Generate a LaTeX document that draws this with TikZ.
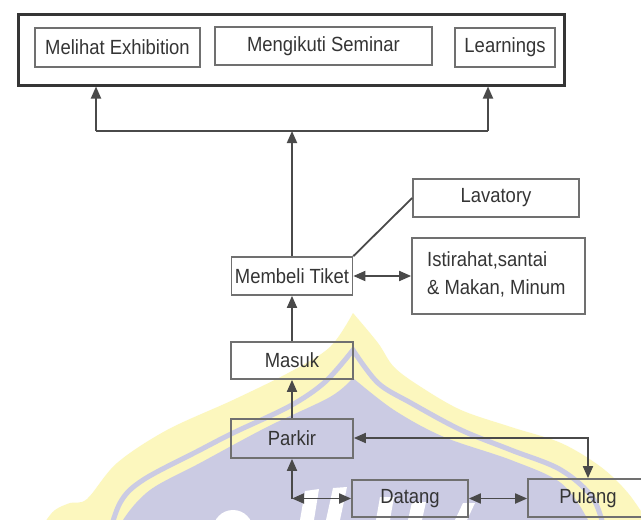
\documentclass[tikz,border=0pt]{standalone}
\usepackage{fontspec}
\setmainfont[FakeStretch=0.9]{Liberation Sans}
\usetikzlibrary{arrows.meta}
\definecolor{wmyellow}{HTML}{FCF7BE}
\definecolor{wmlav}{HTML}{CBCBE3}
\definecolor{edge}{HTML}{707070}
\definecolor{ink}{HTML}{353535}
\definecolor{wirecol}{HTML}{4A4A4A}

\begin{document}
\begin{tikzpicture}[x=1pt, y=-1pt,
  >={Triangle[length=12pt,width=10pt]},
  box/.style={draw=edge, line width=1.7pt, rectangle, inner sep=0pt,
    text=ink, font=\fontsize{20.5}{24}\selectfont},
  frame/.style={draw=ink, line width=3pt, rectangle, inner sep=0pt},
  wire/.style={draw=wirecol, line width=1.8pt},
  label/.style={text=ink, inner sep=0pt, font=\fontsize{20.5}{28}\selectfont}
]
\useasboundingbox (0,0) rectangle (641,520);
\fill[white] (0,0) rectangle (641,520);

% background logo
\begin{scope}
  \clip (0,0) rectangle (641,520);
  \fill[wmyellow] plot[smooth, tension=0.55] coordinates
    {(30,545) (45,522) (55,510) (70,503) (87,499) (117,463) (167,430)
     (233,400) (290,372) (330,347) (353,313)}
    -- plot[smooth, tension=0.55] coordinates
    {(353,313) (378,343) (394,367) (421,387) (461,410) (511,427)
     (561,443) (601,467) (628,493) (650,525)}
    -- (660,545) -- cycle;
  \draw[wmlav, line width=5pt, line join=miter] plot[smooth, tension=0.55] coordinates
    {(106,545) (120,503) (143,480) (200,450) (233,433) (290,406) (325,382) (353,350)}
    -- plot[smooth, tension=0.55] coordinates
    {(353,350) (378,383) (411,403) (461,430) (511,450) (561,470) (594,500) (608,545)};
  \fill[wmlav] plot[smooth, tension=0.55] coordinates
    {(115,545) (123,520) (150,490) (200,463) (267,427) (330,397) (353,378)}
    -- plot[smooth, tension=0.55] coordinates
    {(353,378) (394,410) (444,437) (511,460) (561,483) (588,520) (595,545)}
    -- cycle;
  % white lettering of the logo
  \fill[white] (233,530) circle (20);
  \fill[white] (300,520) -- (305,491) -- (319,489) -- (314,520) -- cycle;
  \fill[white] (326,520) -- (333,488) -- (347,487) -- (340,520) -- cycle;
  \fill[white] (376,520) -- (380,497) -- (394,497) -- (390,520) -- cycle;
  \fill[white] (408,520) -- (412,502) -- (426,502) -- (422,520) -- cycle;
  \fill[white] (455,520) -- (463,503) -- (475,503) -- (467,520) -- cycle;
\end{scope}

% top group
\node[frame, minimum width=546, minimum height=71] (outer) at (291,49.5) {};
\node[box, minimum width=165, minimum height=39] (melihat) at (117.5,47.5) {Melihat Exhibition};
\node[box, minimum width=217, minimum height=38] (seminar) at (323.5,46) {Mengikuti Seminar};
\node[box, minimum width=100, minimum height=39] (learn) at (505,47.5) {Learnings};

% side facilities
\node[box, minimum width=166, minimum height=38] (lavatory) at (496,198) {Lavatory};
\node[box, minimum width=173, minimum height=76] (istirahat) at (498.5,276) {};
\node[label, anchor=west, align=left] (isttext) at (427,274) {Istirahat,santai\\\& Makan, Minum};

% main flow
\node[box, minimum width=121, minimum height=38] (membeli) at (292,276) {Membeli Tiket};
\node[box, minimum width=122, minimum height=37] (masuk) at (292,360.5) {Masuk};
\node[box, minimum width=122, minimum height=39] (parkir) at (292,438.5) {Parkir};
\node[box, minimum width=116, minimum height=37] (datang) at (410,498.5) {Datang};
\node[box, minimum width=120, minimum height=38] (pulang) at (588,498) {Pulang};

% connectors
\coordinate (hl) at (96,131);
\coordinate (hr) at (488,131);
\draw[wire] (hl) -- (hr);
\draw[wire,->] (hl) -- (hl |- outer.south);
\draw[wire,->] (hr) -- (hr |- outer.south);
\draw[wire,->] (membeli.north) -- (membeli.north |- hl);
\draw[wire] (membeli.north east) -- (lavatory.west);
\draw[wire,<->] (membeli) -- (istirahat);
\draw[wire,->] (masuk) -- (membeli);
\draw[wire,->] (parkir) -- (masuk);
\coordinate (pk) at (588,438);
\draw[wire,<->] (parkir.east |- pk) -- (pk) -- (pulang.north);
\draw[wire,<->] (datang) -- (datang -| pulang.west);
\coordinate (dc) at (292,498.5);
\draw[wire,<->] (datang.west) -- (dc);
\draw[wire,->] (dc) -- (dc |- parkir.south);
\end{tikzpicture}
\end{document}
